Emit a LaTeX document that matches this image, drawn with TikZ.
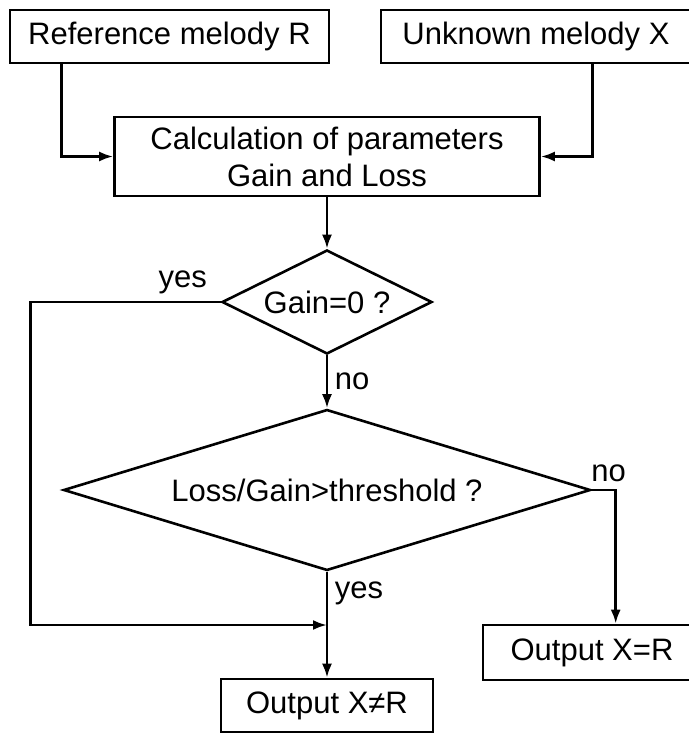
\documentclass[tikz,border=0pt]{standalone}
\usepackage{fontspec}
\setmainfont{Liberation Sans}
\usetikzlibrary{shapes.geometric,arrows.meta}

\begin{document}
\begin{tikzpicture}[
				x = 0.5pt, y = -0.5pt,
				line width = 1.3pt,
				every node/.style = {font = \fontsize{15.5}{18.5}\selectfont},
				block/.style = {draw, rectangle, inner sep = 0pt, align = center},
				decision/.style = {draw, diamond, inner sep = 0pt},
				flow/.style = {-{Latex[length=7pt,width=5pt]}}
				]
				\useasboundingbox (0,0) rectangle (689,733);
				\clip (0,0) rectangle (689,733);
				
				% inputs and first step
				\node [block, minimum width=159.5pt, minimum height=26.5pt] (ref) at (169.5,36.5) {Reference melody R};
				\node [block, minimum width=155pt, minimum height=26.5pt] (unk) at (536,36.5) {Unknown melody X};
				\node [block, minimum width=212.5pt, minimum height=39.5pt] (calc) at (327,156.5) {Calculation of parameters\\Gain and Loss};
				
				% the two tests
				\node [decision, aspect=2.02, minimum width=105pt, minimum height=52pt] (gain) at (327,302) {Gain=0 ?};
				\node [decision, aspect=3.27, minimum width=263.5pt, minimum height=80.5pt] (ratio) at (327,490) {Loss/Gain>threshold ?};
				
				% results
				\node [block, minimum width=106pt, minimum height=26.5pt] (differ) at (327,705.5) {Output X≠R};
				\node [block, minimum width=109pt, minimum height=27.5pt] (same) at (592,652.5) {Output X=R};
				\coordinate (merge) at (327,625);
				
				\draw [flow] ([xshift=26.5pt]ref.south west) |- (calc.west);
				\draw [flow] ([xshift=106.5pt]unk.south west) |- (calc.east);
				\draw [flow] (calc.south) -- (gain.north);
				\draw [flow] (gain.west) -- node [above, pos=.2] {yes} ++(-190,0) |- (merge);
				\draw [flow] (gain.south) -- node [right] {no} (ratio.north);
				\draw [flow] (ratio.south) -- node [right, pos=.2] {yes} (differ.north);
				\draw [flow] (ratio.east) -| node [above, pos=.35] {no} ([xshift=67pt]same.north west);
			\end{tikzpicture}
\end{document}
